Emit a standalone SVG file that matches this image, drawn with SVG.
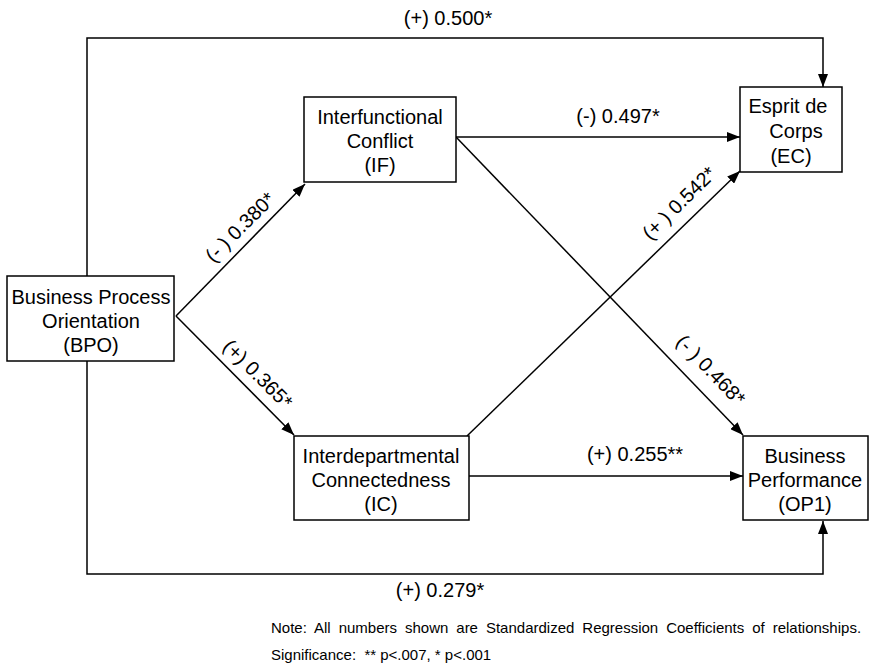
<svg xmlns="http://www.w3.org/2000/svg" width="871" height="666" viewBox="0 0 871 666">
  <style>
    text { font-family: "Liberation Sans", Arial, Helvetica, sans-serif; fill: #000; }
    .node rect { fill: #fff; stroke: #000; stroke-width: 1.5; }
    .node text { font-size: 20px; text-anchor: middle; }
    .edge { fill: none; stroke: #000; stroke-width: 1.5; }
    .lbl { font-size: 20px; text-anchor: middle; }
    .note { font-size: 15px; white-space: pre; }
  </style>
  <defs>
    <marker id="arrow" viewBox="0 0 13 10" refX="13" refY="5" markerWidth="13" markerHeight="10" markerUnits="userSpaceOnUse" orient="auto">
      <path d="M0,0 L13,5 L0,10 z" fill="#000"/>
    </marker>
  </defs>

  <!-- connectors -->
  <g id="connectors">
    <polyline class="edge" points="87,276 87,38 823,38 823,87" marker-end="url(#arrow)"/>
    <polyline class="edge" points="87,361 87,574 823,574 823,521" marker-end="url(#arrow)"/>
    <line class="edge" x1="176" y1="316" x2="305" y2="184" marker-end="url(#arrow)"/>
    <line class="edge" x1="176" y1="316" x2="294" y2="435" marker-end="url(#arrow)"/>
    <line class="edge" x1="456" y1="137" x2="740" y2="137" marker-end="url(#arrow)"/>
    <line class="edge" x1="456" y1="137" x2="743" y2="435" marker-end="url(#arrow)"/>
    <line class="edge" x1="467" y1="436" x2="740" y2="171" marker-end="url(#arrow)"/>
    <line class="edge" x1="467" y1="476" x2="743" y2="476" marker-end="url(#arrow)"/>
  </g>

  <!-- path coefficients -->
  <g id="labels">
    <text class="lbl" x="448" y="25">(+) 0.500*</text>
    <text class="lbl" x="618" y="123">(-) 0.497*</text>
    <text class="lbl" x="635" y="461">(+) 0.255**</text>
    <text class="lbl" x="440" y="597">(+) 0.279*</text>
    <text class="lbl" transform="translate(240,227) rotate(-45)" y="7">(- ) 0.380*</text>
    <text class="lbl" transform="translate(258,374) rotate(45)" y="7">(+) 0.365*</text>
    <text class="lbl" transform="translate(679,203) rotate(-44.5)" y="7">(+ ) 0.542*</text>
    <text class="lbl" transform="translate(711,370) rotate(46)" y="7">(- ) 0.468*</text>
  </g>

  <!-- constructs -->
  <g id="BPO" class="node">
    <rect x="7" y="276" width="167" height="85"/>
    <text x="91" y="304">Business Process</text>
    <text x="91" y="328">Orientation</text>
    <text x="91" y="352">(BPO)</text>
  </g>
  <g id="IF" class="node">
    <rect x="304" y="97" width="152" height="85"/>
    <text x="380" y="124">Interfunctional</text>
    <text x="380" y="148">Conflict</text>
    <text x="380" y="172">(IF)</text>
  </g>
  <g id="IC" class="node">
    <rect x="294" y="436" width="175" height="84"/>
    <text x="381" y="463">Interdepartmental</text>
    <text x="381" y="487">Connectedness</text>
    <text x="381" y="511">(IC)</text>
  </g>
  <g id="EC" class="node">
    <rect x="740" y="87" width="102" height="85"/>
    <text x="788" y="113">Esprit de</text>
    <text x="796" y="138">Corps</text>
    <text x="791" y="163">(EC)</text>
  </g>
  <g id="OP1" class="node">
    <rect x="743" y="436" width="125" height="84"/>
    <text x="805" y="463">Business</text>
    <text x="805" y="487">Performance</text>
    <text x="805" y="511">(OP1)</text>
  </g>

  <!-- footnote -->
  <g id="note">
    <text class="note" x="271" y="633" word-spacing="3.8">Note: All numbers shown are Standardized Regression Coefficients of relationships.</text>
    <text class="note" x="271" y="660">Significance:  ** p&lt;.007, * p&lt;.001</text>
  </g>
</svg>
